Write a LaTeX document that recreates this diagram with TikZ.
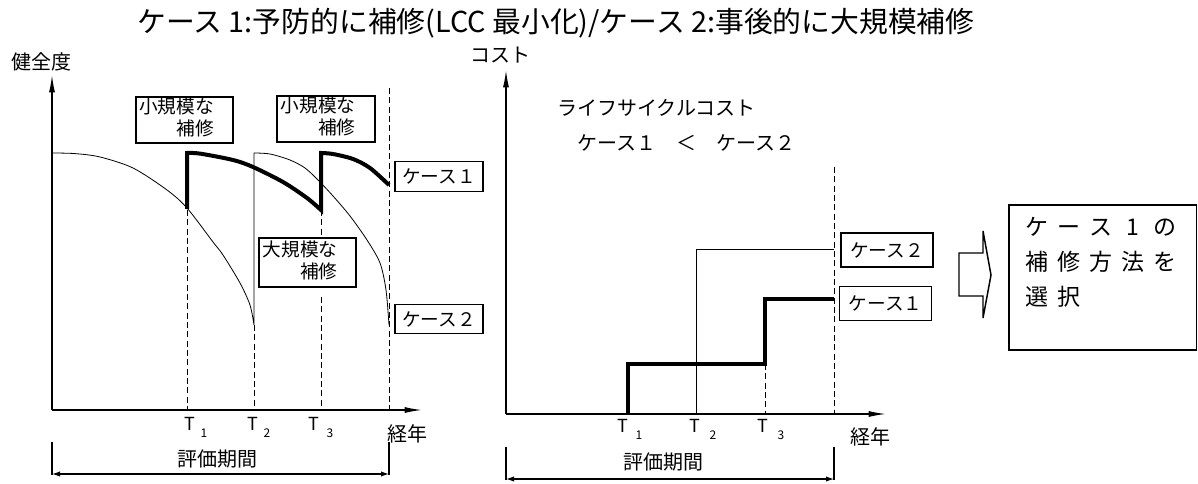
\documentclass[tikz,border=0pt]{standalone}
\usepackage{fontspec}
\setmainfont{Noto Sans CJK JP}
\usetikzlibrary{arrows.meta}
\newcommand\selcell[1]{\makebox[24pt]{#1}}
\begin{document}
\begin{tikzpicture}[x=0.75pt,y=-0.75pt,
 txt/.style={inner sep=0pt, font=\fontsize{15pt}{15pt}\selectfont},
 reptxt/.style={inner sep=0pt, font=\fontsize{14pt}{15pt}\selectfont},
 ttl/.style={inner sep=0pt, font=\fontsize{21.6pt}{24pt}\selectfont},
 tl/.style={inner sep=0pt, font=\fontsize{13.5pt}{14pt}\selectfont},
 ts/.style={inner sep=0pt, font=\fontsize{9pt}{9pt}\selectfont},
 bigtxt/.style={inner sep=0pt, font=\fontsize{17.25pt}{18pt}\selectfont},
 casebox/.style={draw, line width=0.8pt, fill=white, inner sep=0pt, font=\fontsize{14pt}{15pt}\selectfont},
 repbox/.style={draw, line width=0.8pt, fill=white, inner sep=0pt},
 axisline/.style={line width=1pt},
 curveline/.style={line width=0.6pt},
 heavy/.style={line width=3pt, line join=miter},
 dashv/.style={line width=0.7pt, dash pattern=on 4.5pt off 2.5pt},
 ax/.style={-{Latex[length=13pt,width=4.5pt]}},
 br/.style={{Latex[length=6pt,width=4pt]}-{Latex[length=6pt,width=4pt]}, line width=0.8pt},
]
\useasboundingbox (0,0) rectangle (1198,484);

% title
\node[ttl] (title) at (556,23) {ケース 1:予防的に補修(LCC 最小化)/ケース 2:事後的に大規模補修};

% ---------------- left chart ----------------
\coordinate (lo) at (52,410);
\coordinate (ly) at (52,75);
\coordinate (lx) at (422,410);
\node[txt] (kenzen) at (42,62) {健全度};

% dashed verticals
\draw[dashv] (187,210) -- (187,410);
\draw[dashv] (254,325) -- (254,410);
\draw[dashv] (321,210) -- (321,240);
\draw[dashv] (321,297) -- (321,410);
\draw[dashv] (389,88) -- (389,410);

% case 2 thin curves
\draw[curveline] plot[smooth] coordinates {(52,153) (75,153.6) (100,157) (133,168) (167,190) (187,208) (213,242) (223,255) (240,283) (250,305) (254,325)}
  -- plot[smooth] coordinates {(254,153) (270,154) (290,160) (305,168) (318,180) (333,196) (350,216) (367,240) (380,263) (386,290) (389,325)};

% case 1 thick curves
\draw[heavy] (187,209) -- plot[smooth] coordinates {(187,153) (200,153.6) (233,160) (253,167) (283,182) (307,198) (321,210)}
  -- plot[smooth] coordinates {(321,153) (333,154) (353,159) (370,168) (389,185)};

\draw[axisline,ax] (lo) -- (ly);
\draw[axisline,ax] (lo) -- (lx);

% repair boxes
\node[repbox, minimum width=72.75pt, minimum height=34.5pt] (rep1) at (184.5,120) {};
\node[reptxt, anchor=west] (rep1t) at ([xshift=2.5pt]rep1.west) {\begin{tabular}{@{}l@{}}小規模な\\\hfill 補修\end{tabular}};
\node[repbox, minimum width=73.5pt, minimum height=34.5pt] (rep2) at (326,119) {};
\node[reptxt, anchor=west] (rep2t) at ([xshift=3pt]rep2.west) {\begin{tabular}{@{}l@{}}小規模な\\\hfill 補修\end{tabular}};
\node[repbox, minimum width=72.75pt, minimum height=36.75pt] (rep3) at (307.5,262.5) {};
\node[reptxt, anchor=west] (rep3t) at ([xshift=3pt]rep3.west) {\begin{tabular}{@{}l@{}}大規模な\\\hfill 補修\end{tabular}};

% case labels left
\node[casebox, minimum width=66pt, minimum height=22pt] (lc1) at (439,176.5) {ケース１};
\node[casebox, minimum width=66pt, minimum height=22pt] (lc2) at (439,319) {ケース２};

% T labels left
\node[tl] (lt1) at (190,424) {T};
\node[ts] (lt1s) at (204,433) {1};
\node[tl] (lt2) at (253,424) {T};
\node[ts] (lt2s) at (267,433) {2};
\node[tl] (lt3) at (314,424) {T};
\node[ts] (lt3s) at (330,433) {3};
\node[txt] (keinen1) at (407,434) {経年};
\node[txt] (hyoka1) at (217,459) {評価期間};

% bracket left
\coordinate (lb1t) at (52,442);
\coordinate (lb1b) at (52,475);
\coordinate (lb2t) at (389,442);
\coordinate (lb2b) at (389,475);
\coordinate (lba) at (52,474);
\coordinate (lbb) at (389,474);
\draw[axisline] (lb1t) -- (lb1b);
\draw[axisline] (lb2t) -- (lb2b);
\draw[br] (lba) -- (lbb);

% ---------------- right chart ----------------
\coordinate (ro) at (506,414);
\coordinate (ry) at (506,70);
\coordinate (rx) at (886,414);
\node[txt] (cost) at (500,55) {コスト};
\node[txt, anchor=west] (lcc) at (557,108) {ライフサイクルコスト};
\node[txt, anchor=west] (cmp) at (577,143) {ケース１　＜　ケース２};

\draw[dashv] (765,364) -- (765,414);
\draw[dashv] (834,167) -- (834,414);

\draw[curveline] (696,414) -- (696,249) -- (834,249);
\draw[heavy] (628,414) -- (628,364) -- (765,364) -- (765,299) -- (834,299);

\draw[axisline,ax] (ro) -- (ry);
\draw[axisline,ax] (ro) -- (rx);

\node[casebox, minimum width=69pt, minimum height=25.5pt] (rc2) at (887,250) {ケース２};
\node[casebox, minimum width=69pt, minimum height=25pt] (rc1) at (885.5,303.5) {ケース１};

\node[tl] (rt1) at (623,426) {T};
\node[ts] (rt1s) at (639,435) {1};
\node[tl] (rt2) at (695,426) {T};
\node[ts] (rt2s) at (713,435) {2};
\node[tl] (rt3) at (763,426) {T};
\node[ts] (rt3s) at (781,435) {3};
\node[txt] (keinen2) at (870,437) {経年};
\node[txt] (hyoka2) at (663,462) {評価期間};

\coordinate (rb1t) at (506,447);
\coordinate (rb1b) at (506,480);
\coordinate (rb2t) at (834,447);
\coordinate (rb2b) at (834,480);
\coordinate (rba) at (506,479);
\coordinate (rbb) at (834,479);
\draw[axisline] (rb1t) -- (rb1b);
\draw[axisline] (rb2t) -- (rb2b);
\draw[br] (rba) -- (rbb);

% hollow arrow
\draw[line width=1.1pt, line join=miter] (959,253) -- (983,253) -- (983,231) -- (991,275) -- (983,318) -- (983,296) -- (959,296) -- cycle;

% selection box
\node[draw, line width=1.1pt, minimum width=140.6pt, minimum height=108.75pt, inner sep=0pt] (sel) at (1102.75,277.5) {};
\node[bigtxt, anchor=west] (sel1) at (1021,227) {\selcell{ケ}\selcell{ー}\selcell{ス}\selcell{1}\selcell{の}};
\node[bigtxt, anchor=west] (sel2) at (1021,262) {\selcell{補}\selcell{修}\selcell{方}\selcell{法}\selcell{を}};
\node[bigtxt, anchor=west] (sel3) at (1021,297) {\selcell{選}\selcell{択}};
\end{tikzpicture}
\end{document}
